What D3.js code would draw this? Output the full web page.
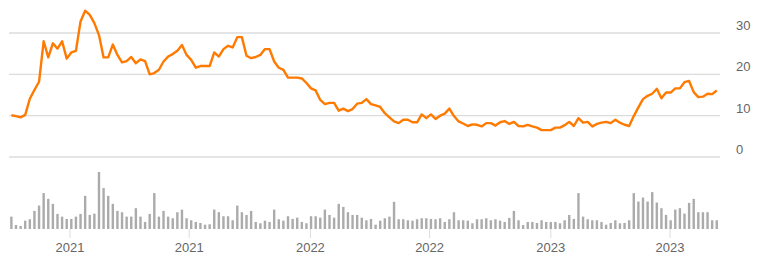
<!DOCTYPE html>
<html>
<head>
<meta charset="utf-8">
<script src="https://cdn.jsdelivr.net/npm/d3@7"></script>
<style>
    body { margin: 0; background: #fff; }
    svg text { font-family: "Liberation Sans", Arial, sans-serif; font-size: 13px; fill: #666; }
</style>
</head>
<body>
<svg id="chart" width="760" height="260"></svg>
<script>
// weekly closing price, starting first week of Oct 2020
const startDate = new Date(2020, 9, 4);
const prices = [
    10.1, 9.9, 9.6, 10.2, 14.1, 16.2, 18.2, 28.0, 24.1, 27.5,
    26.2, 28.0, 23.8, 25.3, 25.7, 32.8, 35.4, 34.4, 32.4, 29.5,
    24.1, 24.1, 27.2, 24.7, 22.9, 23.2, 24.2, 22.7, 23.6, 23.2,
    20.0, 20.3, 21.1, 23.1, 24.3, 24.9, 25.7, 27.1, 24.7, 23.5,
    21.6, 22.0, 22.0, 22.0, 25.3, 24.3, 26.1, 26.9, 26.5, 29.0,
    29.0, 24.5, 23.9, 24.2, 24.7, 26.1, 26.1, 23.1, 21.6, 21.1,
    19.2, 19.2, 19.2, 19.0, 17.9, 16.6, 16.1, 13.8, 12.8, 13.1,
    13.1, 11.2, 11.7, 11.1, 11.6, 12.9, 13.1, 14.0, 12.8, 12.5,
    12.1, 10.6, 9.6, 8.6, 8.2, 9.0, 9.0, 8.4, 8.4, 10.3,
    9.4, 10.3, 9.2, 10.0, 10.5, 11.7, 9.9, 8.6, 8.1, 7.5,
    7.9, 7.8, 7.4, 8.2, 8.2, 7.6, 8.4, 8.7, 8.0, 8.5,
    7.5, 7.4, 7.8, 7.4, 7.1, 6.5, 6.5, 6.5, 7.1, 7.1,
    7.7, 8.5, 7.5, 9.4, 8.3, 8.5, 7.4, 8.0, 8.3, 8.5,
    8.2, 9.0, 8.3, 7.8, 7.5, 9.9, 12.0, 14.0, 14.8, 15.3,
    16.5, 14.2, 15.6, 15.6, 16.6, 16.6, 18.1, 18.4, 15.7, 14.5,
    14.6, 15.3, 15.2, 16.1
];
// weekly volume (millions)
const volumes = [
    12.3, 4.0, 3.0, 8.3, 9.7, 18.0, 23.3, 35.7, 30.0, 25.0,
    15.0, 12.3, 10.0, 10.0, 12.3, 15.0, 33.0, 14.0, 15.3, 56.7,
    40.7, 33.0, 25.0, 18.0, 16.7, 12.3, 12.3, 20.7, 12.3, 7.0,
    15.0, 35.7, 12.3, 18.0, 12.3, 10.7, 16.7, 19.3, 10.7, 8.7,
    7.0, 6.0, 4.3, 4.7, 19.3, 16.7, 12.7, 12.7, 8.7, 23.3,
    16.7, 14.0, 18.0, 7.0, 5.7, 8.3, 7.0, 19.3, 9.7, 8.3,
    12.7, 10.0, 11.3, 7.0, 5.7, 12.7, 12.7, 11.3, 19.3, 14.0,
    11.3, 25.0, 22.0, 16.7, 14.0, 14.0, 11.3, 8.7, 10.0, 4.3,
    8.3, 10.7, 12.3, 27.0, 9.7, 9.7, 8.7, 8.3, 9.7, 10.7,
    10.7, 10.0, 9.7, 10.7, 7.0, 9.7, 16.7, 8.7, 8.7, 8.3,
    5.7, 9.7, 9.7, 10.7, 8.7, 9.7, 8.3, 7.0, 11.0, 18.0,
    8.7, 4.0, 7.0, 7.0, 6.0, 8.7, 7.0, 7.0, 7.0, 5.7,
    8.7, 14.0, 10.0, 35.7, 12.3, 9.7, 8.7, 8.7, 7.0, 4.3,
    6.0, 8.7, 5.7, 6.0, 8.7, 35.7, 27.3, 31.3, 27.3, 36.7,
    26.3, 20.7, 14.0, 8.7, 19.3, 20.7, 15.3, 26.0, 30.0, 16.7,
    16.7, 16.7, 8.7, 8.7
];
const priceTicks = [0, 10, 20, 30];
const dateTicks = ['2021-01-01', '2021-07-01', '2022-01-01', '2022-07-01', '2023-01-01', '2023-07-01'];

const dates = prices.map((p, i) => d3.timeDay.offset(startDate, i * 7));

const svg = d3.select('#chart');

let x = d3.scaleTime()
    .domain([new Date(2021, 0, 1), new Date(2023, 6, 1)])
    .range([70, 670]);

let y = d3.scaleLinear()
    .domain([0, 30])
    .range([157, 33]);

let yVol = d3.scaleLinear()
    .domain([0, d3.max(volumes)])
    .range([229, 172]);

// price grid + labels on the right
let grid = svg.append('g');
grid.selectAll('line')
    .data(priceTicks)
    .enter().append('line')
    .attr('x1', 9).attr('x2', 720)
    .attr('y1', d => y(d)).attr('y2', d => y(d))
    .attr('stroke', '#dcdcdc')
    .attr('stroke-width', 1.3);

grid.selectAll('text')
    .data(priceTicks)
    .enter().append('text')
    .attr('x', 736)
    .attr('y', d => y(d) - 3)
    .text(d => d);

// volume bars
svg.append('g').selectAll('rect')
    .data(volumes)
    .enter().append('rect')
    .attr('x', (d, i) => x(dates[i]) - 1.2)
    .attr('width', 2.4)
    .attr('y', d => yVol(d))
    .attr('height', d => yVol(0) - yVol(d))
    .attr('fill', '#ababab');

// x axis ticks
let xAxis = svg.append('g');
let tickDates = dateTicks.map(d => d3.timeParse('%Y-%m-%d')(d));
xAxis.selectAll('line')
    .data(tickDates)
    .enter().append('line')
    .attr('x1', d => x(d)).attr('x2', d => x(d))
    .attr('y1', 229).attr('y2', 238)
    .attr('stroke', '#dcdcdc');

xAxis.selectAll('text')
    .data(tickDates)
    .enter().append('text')
    .attr('x', d => x(d))
    .attr('y', 252)
    .attr('text-anchor', 'middle')
    .text(d => d3.timeFormat('%Y')(d));

// price line
let line = d3.line()
    .x((d, i) => x(dates[i]))
    .y(d => y(d));

svg.append('path')
    .datum(prices)
    .attr('d', line)
    .attr('fill', 'none')
    .attr('stroke', '#ff7a00')
    .attr('stroke-width', 2.4)
    .attr('stroke-linejoin', 'round');
</script>
</body>
</html>
